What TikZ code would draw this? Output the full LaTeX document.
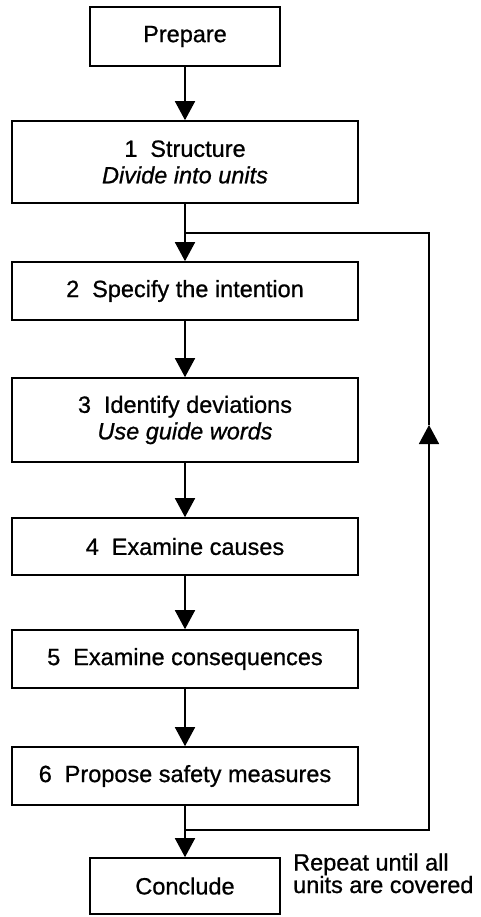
\documentclass[tikz,border=0pt]{standalone}
\usepackage{fontspec}
\setmainfont{Liberation Sans}[FakeBold=0.8]
\usetikzlibrary{arrows.meta}
\newcommand{\boxfont}{\fontsize{23.5}{26.5}\selectfont}
\newcommand{\notefont}{\fontsize{23.5}{22.5}\selectfont}
\newcommand{\numgap}{\hspace{0.55em}}
\begin{document}
\begin{tikzpicture}[x=1pt,y=-1pt,
  stepbox/.style={draw, line width=1.6pt, rectangle, inner sep=0pt,
    minimum width=346pt, align=center, font=\boxfont},
  endbox/.style={stepbox, minimum width=190pt},
  flow/.style={line width=1.6pt},
  arr/.style={flow, -{Triangle[length=19pt,width=20pt]}}]
  \useasboundingbox (0,0) rectangle (481,917);

  % main chain of steps
  \node[endbox,  minimum height=59pt] (prep) at (185,36.5) {Prepare};
  \node[stepbox, minimum height=82pt] (s1) at (185,162)
    {1\numgap Structure\\\itshape Divide into units};
  \node[stepbox, minimum height=58pt] (s2) at (185,291)
    {2\numgap Specify the intention};
  \node[stepbox, minimum height=84pt] (s3) at (185,420)
    {3\numgap Identify deviations\\\itshape Use guide words};
  \node[stepbox, minimum height=57pt] (s4) at (185,546.5)
    {4\numgap Examine causes};
  \node[stepbox, minimum height=58pt] (s5) at (185,659)
    {5\numgap Examine consequences};
  \node[stepbox, minimum height=58pt] (s6) at (185,776)
    {6\numgap Propose safety measures};
  \node[endbox,  minimum height=56pt] (conc) at (185,886) {Conclude};

  % repeat note (base anchor sits on the last line)
  \node[anchor=base west, inner sep=0pt, align=left, font=\notefont]
    (note) at (293,893) {Repeat until all\\units are covered};

  % loop junction points
  \coordinate (join) at (185,233);
  \coordinate (ret)  at (185,830);
  \coordinate (rc1)  at (429,830);
  \coordinate (up)   at (429,425);
  \coordinate (rc2)  at (429,233);

  % forward arrows
  \draw[arr] (prep) -- (s1);
  \draw[arr] (s1) -- (s2);
  \draw[arr] (s2) -- (s3);
  \draw[arr] (s3) -- (s4);
  \draw[arr] (s4) -- (s5);
  \draw[arr] (s5) -- (s6);
  \draw[arr] (s6) -- (conc);

  % feedback loop
  \draw[arr] (ret) -- (rc1) -- (up);
  \draw[flow] (up) -- (rc2) -- (join);
\end{tikzpicture}
\end{document}
